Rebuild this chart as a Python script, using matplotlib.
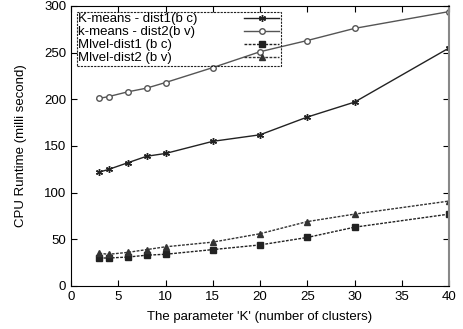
import numpy as np
import matplotlib
matplotlib.use('Agg')
import matplotlib.pyplot as plt

# data
k_values = [3, 4, 6, 8, 10, 15, 20, 25, 30, 40]
kmeans_dist1 = [122, 125, 132, 139, 142, 155, 162, 181, 197, 255]
kmeans_dist2 = [201, 203, 208, 212, 218, 234, 251, 263, 276, 294]
mlvel_dist1 = [30, 30, 31, 33, 34, 39, 44, 52, 63, 77]
mlvel_dist2 = [35, 34, 36, 39, 42, 47, 56, 69, 77, 91]

plt.rcParams['font.family'] = ['Liberation Sans', 'DejaVu Sans']

fig = plt.figure(figsize=(4.63, 3.29), dpi=100)
ax = fig.add_axes([71 / 463, 43 / 329, 378 / 463, 280 / 329])

ax.plot(k_values, kmeans_dist1, color='#222222', linewidth=1.0,
        marker=(6, 2, 0), markersize=5, markeredgewidth=1.0,
        label='K-means - dist1(b c)')
ax.plot(k_values, kmeans_dist2, color='#555555', linewidth=1.0,
        marker='o', markersize=4, markerfacecolor='white',
        label='k-means - dist2(b v)')
ax.plot(k_values, mlvel_dist1, color='#222222', linewidth=1.0,
        linestyle=(0, (2, 1)), marker='s', markersize=4.5,
        label='Mlvel-dist1 (b c)')
ax.plot(k_values, mlvel_dist2, color='#333333', linewidth=1.0,
        linestyle=(0, (2, 1)), marker='^', markersize=4,
        label='Mlvel-dist2 (b v)')

ax.set_xlim(0, 40)
ax.set_ylim(0, 300)
ax.set_xticks(np.arange(0, 41, 5))
ax.set_yticks(np.arange(0, 301, 50))
ax.tick_params(direction='in', top=True, right=True, labelsize=9.5,
               length=4, width=0.8)
ax.spines['right'].set_color('#888888')
ax.spines['right'].set_linewidth(1.5)

ax.set_xlabel("The parameter 'K' (number of clusters)", fontsize=9.5,
              labelpad=6)
ax.set_ylabel('CPU Runtime (milli second)', fontsize=9.5, labelpad=12)

leg = ax.legend(loc='upper left', markerfirst=False, fontsize=9.5,
                fancybox=False, framealpha=1, facecolor='none',
                edgecolor='#222222',
                borderpad=0.1, labelspacing=0.05, handlelength=2.7,
                handletextpad=3.5, borderaxespad=0.45)
leg.get_frame().set_linestyle((0, (2, 1)))
leg.get_frame().set_linewidth(0.8)

# gnuplot style key: labels left aligned, samples lined up on the right
fig.canvas.draw()
renderer = fig.canvas.get_renderer()
widths = [t.get_window_extent(renderer).width for t in leg.texts]
column = leg._legend_handle_box.get_children()[0]
column.align = 'left'
for row, w in zip(column.get_children(), widths):
    row.sep += (max(widths) - w) * 72 / fig.dpi

fig.savefig('out.png', dpi=100)
